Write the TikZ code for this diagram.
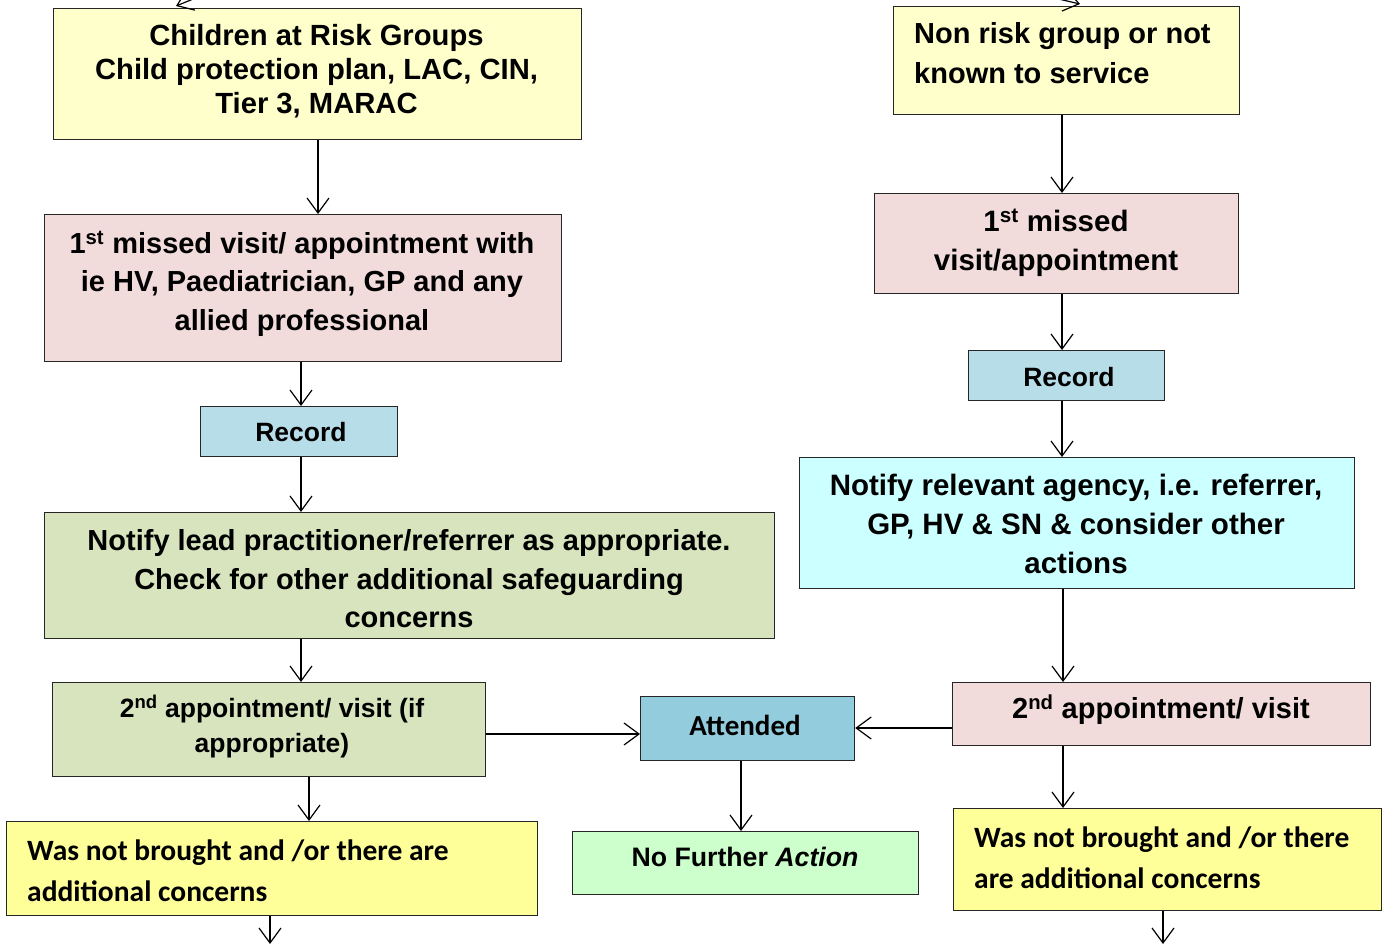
\documentclass[tikz,border=0pt]{standalone}
\usepackage{fontspec}
\setmainfont{Liberation Sans}
\newfontfamily\calfont{Carlito}
\usetikzlibrary{arrows.meta}
\definecolor{cRisk}{HTML}{FFFFCC}
\definecolor{cPink}{HTML}{F2DCDB}
\definecolor{cRec}{HTML}{B7DDE8}
\definecolor{cGreen}{HTML}{D7E4BD}
\definecolor{cYel}{HTML}{FFFF99}
\definecolor{cAtt}{HTML}{93CDDD}
\definecolor{cNfa}{HTML}{CCFFCC}
\definecolor{cCyan}{HTML}{CCFFFF}
\tikzset{
  box/.style={draw=black!85, line width=1.2pt, inner sep=0pt, anchor=north west},
  txt/.style={inner sep=0pt, align=center, font=\bfseries},
  ltxt/.style={inner sep=0pt, align=left, anchor=west},
  arr/.style={line width=1.2pt, -{Straight Barb[length=15pt,width=22pt,line width=1.2pt]}},
}
\newcommand{\bx}[6]{\node[box, fill=#6, minimum width=#3pt-#1pt, minimum height=#4pt-#2pt] (#5) at (#1,#2) {};}
\begin{document}
\begin{tikzpicture}[x=1pt,y=-1pt]
\useasboundingbox (0,0) rectangle (1383,944);
% boxes
\bx{53}{8}{581}{139}{A}{cRisk}
\bx{44}{214}{561}{361}{B}{cPink}
\bx{200}{406}{397}{456}{C}{cRec}
\bx{44}{512}{774}{638}{D}{cGreen}
\bx{52}{682}{485}{776}{E}{cGreen}
\bx{6}{821}{537}{915}{F}{cYel}
\bx{640}{696}{854}{760}{G}{cAtt}
\bx{572}{831}{918}{894}{H}{cNfa}
\bx{893}{6}{1239}{114}{I}{cRisk}
\bx{874}{193}{1238}{293}{J}{cPink}
\bx{968}{350}{1164}{400}{K}{cRec}
\bx{799}{457}{1354}{588}{L}{cCyan}
\bx{952}{682}{1370}{745}{M}{cPink}
\bx{953}{808}{1381}{910}{N}{cYel}
% texts
\node[txt, font=\bfseries\fontsize{29.2}{34}\selectfont] (tA) at (316.5,71) {Children at Risk Groups\\Child protection plan, LAC, CIN,\\Tier 3, MARAC};
\node[txt, font=\bfseries\fontsize{29}{38.5}\selectfont] (tB) at (302,283.5) {1\textsuperscript{st} missed visit/ appointment with\\ie HV, Paediatrician, GP and any\\allied professional};
\node[txt, font=\bfseries\fontsize{26.5}{38.5}\selectfont] (tC) at (301,432) {Record};
\node[txt, font=\bfseries\fontsize{29}{38.5}\selectfont] (tD) at (409,579) {Notify lead practitioner/referrer as appropriate.\\Check for other additional safeguarding\\concerns};
\node[txt, font=\bfseries\fontsize{26.5}{35}\selectfont] (tE) at (272,727) {2\textsuperscript{nd} appointment/ visit (if\\appropriate)};
\node[ltxt, font=\calfont\bfseries\fontsize{29.5}{41}\selectfont] (tF) at (27,870.5) {Was not brought and /or there are\\additional concerns};
\node[txt, font=\calfont\bfseries\fontsize{29}{34}\selectfont] (tG) at (745,725) {Attended};
\node[txt, font=\bfseries\fontsize{26.7}{34}\selectfont] (tH) at (745,857) {No Further \textit{Action}};
\node[ltxt, font=\bfseries\fontsize{29}{40}\selectfont] (tI) at (914,53) {Non risk group or not\\known to service};
\node[txt, font=\bfseries\fontsize{29.5}{39}\selectfont] (tJ) at (1056,242.5) {1\textsuperscript{st} missed\\visit/appointment};
\node[txt, font=\bfseries\fontsize{26.5}{38.5}\selectfont] (tK) at (1069,377) {Record};
\node[txt, font=\bfseries\fontsize{29.5}{39}\selectfont] (tL) at (1076,524) {Notify relevant agency, i.e. referrer,\\GP, HV \& SN \& consider other\\actions};
\node[txt, font=\bfseries\fontsize{29}{34}\selectfont] (tM) at (1161,710) {2\textsuperscript{nd} appointment/ visit};
\node[ltxt, font=\calfont\bfseries\fontsize{29.5}{41}\selectfont] (tN) at (974,857.5) {Was not brought and /or there\\are additional concerns};
% guide coordinates
\coordinate (x318) at (318,0);
\coordinate (x301) at (301,0);
\coordinate (x309) at (309,0);
\coordinate (x741) at (741,0);
\coordinate (x1062) at (1062,0);
\coordinate (x1063) at (1063,0);
\coordinate (y734) at (0,734);
\coordinate (y728) at (0,728);
\coordinate (outF) at (270,944);
\coordinate (outN) at (1163,944);
\coordinate (inL0) at (240,-20);
\coordinate (inL1) at (176,6);
\coordinate (inR0) at (1020,-10);
\coordinate (inR1) at (1080,4);
% connectors
\draw[arr] (inL0) -- (inL1);
\draw[arr] (inR0) -- (inR1);
\draw[arr] (A.south -| x318) -- (B.north -| x318);
\draw[arr] (B.south -| x301) -- (C.north -| x301);
\draw[arr] (C.south -| x301) -- (D.north -| x301);
\draw[arr] (D.south -| x301) -- (E.north -| x301);
\draw[arr] (E.south -| x309) -- (F.north -| x309);
\draw[arr] (E.east |- y734) -- (G.west |- y734);
\draw[arr] (G.south -| x741) -- (H.north -| x741);
\draw[arr] (M.west |- y728) -- (G.east |- y728);
\draw[arr] (I.south -| x1062) -- (J.north -| x1062);
\draw[arr] (J.south -| x1062) -- (K.north -| x1062);
\draw[arr] (K.south -| x1062) -- (L.north -| x1062);
\draw[arr] (L.south -| x1063) -- (M.north -| x1063);
\draw[arr] (M.south -| x1063) -- (N.north -| x1063);
\draw[arr] (F.south -| outF) -- (outF);
\draw[arr] (N.south -| outN) -- (outN);
\end{tikzpicture}
\end{document}
